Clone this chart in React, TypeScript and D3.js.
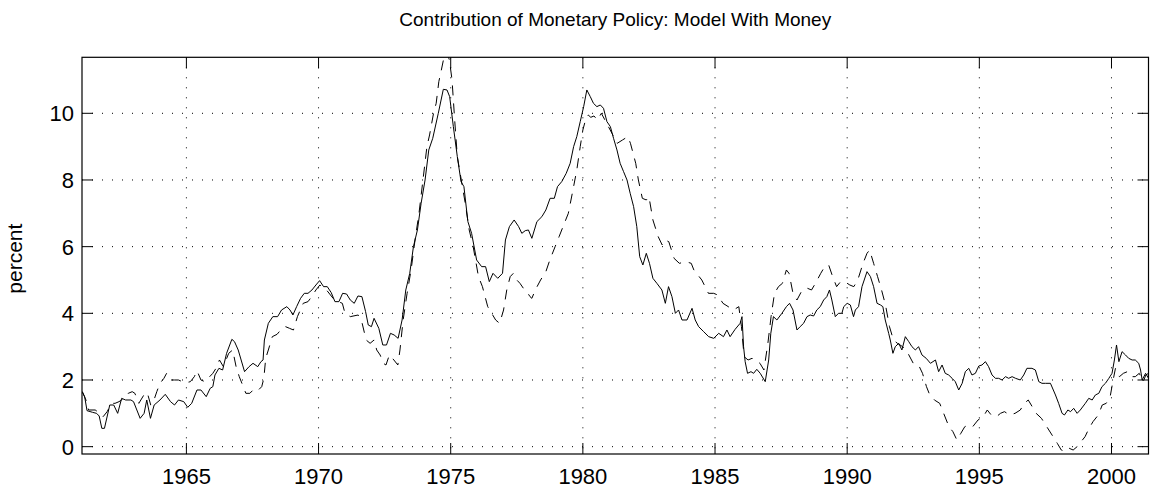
import * as d3 from "d3";

// 実線: 実際の系列
const solidSeries: [number, number][] = [
  [1961.06, 1.65], [1961.15, 1.5], [1961.24, 1.08], [1961.45, 1.03], [1961.6, 1.0], [1961.7, 0.92], [1961.8, 0.55], [1961.9, 0.55],
  [1962.1, 1.25], [1962.25, 1.25], [1962.4, 1.0], [1962.55, 1.45], [1962.7, 1.4], [1962.9, 1.4], [1963.0, 1.35], [1963.25, 0.85],
  [1963.4, 1.0], [1963.5, 1.4], [1963.64, 0.85], [1963.78, 1.25], [1964.0, 1.4], [1964.2, 1.57], [1964.4, 1.35], [1964.55, 1.25],
  [1964.7, 1.4], [1964.9, 1.35], [1965.05, 1.18], [1965.2, 1.3], [1965.4, 1.7], [1965.55, 1.7], [1965.75, 1.5], [1965.9, 1.75],
  [1966.0, 1.8], [1966.08, 2.15], [1966.23, 2.35], [1966.37, 2.3], [1966.52, 2.8], [1966.72, 3.22], [1966.82, 3.15], [1966.96, 2.9],
  [1967.2, 2.25], [1967.37, 2.4], [1967.52, 2.5], [1967.7, 2.4], [1967.82, 2.55], [1967.9, 2.6], [1967.95, 3.2], [1968.1, 3.7],
  [1968.27, 3.9], [1968.45, 3.9], [1968.6, 4.1], [1968.8, 4.2], [1968.92, 4.1], [1969.03, 3.95], [1969.17, 4.2], [1969.32, 4.45],
  [1969.46, 4.6], [1969.6, 4.6], [1969.75, 4.7], [1969.9, 4.85], [1970.04, 4.98], [1970.19, 4.8], [1970.33, 4.8], [1970.48, 4.62],
  [1970.62, 4.35], [1970.77, 4.35], [1970.91, 4.6], [1971.06, 4.58], [1971.2, 4.4], [1971.35, 4.3], [1971.49, 4.52], [1971.64, 4.5],
  [1971.78, 4.05], [1971.88, 3.65], [1972.0, 3.6], [1972.1, 3.85], [1972.28, 3.55], [1972.43, 3.05], [1972.57, 3.05], [1972.72, 3.4],
  [1972.86, 3.35], [1973.01, 3.25], [1973.16, 3.8], [1973.3, 4.7], [1973.45, 5.2], [1973.59, 6.0], [1973.74, 6.5], [1973.88, 7.3],
  [1974.03, 8.0], [1974.17, 8.9], [1974.32, 9.25], [1974.53, 10.0], [1974.72, 10.72], [1974.86, 10.7], [1974.96, 10.5], [1975.1, 9.6],
  [1975.25, 8.7], [1975.39, 7.95], [1975.5, 7.8], [1975.65, 6.75], [1975.79, 6.4], [1975.98, 5.6], [1976.17, 5.4], [1976.32, 5.4],
  [1976.46, 4.95], [1976.6, 5.2], [1976.78, 5.05], [1976.96, 5.2], [1977.07, 6.2], [1977.22, 6.6], [1977.4, 6.8], [1977.57, 6.6],
  [1977.69, 6.4], [1977.82, 6.48], [1977.94, 6.5], [1978.07, 6.25], [1978.26, 6.75], [1978.45, 6.9], [1978.6, 7.1], [1978.76, 7.45],
  [1978.92, 7.45], [1979.04, 7.8], [1979.2, 7.95], [1979.37, 8.2], [1979.52, 8.5], [1979.65, 9.0], [1979.77, 9.3], [1979.9, 9.75],
  [1980.03, 10.2], [1980.15, 10.7], [1980.28, 10.5], [1980.4, 10.3], [1980.53, 10.2], [1980.66, 10.25], [1980.78, 10.15], [1980.91, 9.75],
  [1981.04, 9.6], [1981.16, 9.25], [1981.29, 8.9], [1981.41, 8.5], [1981.54, 8.25], [1981.67, 8.0], [1981.79, 7.6], [1981.92, 7.2],
  [1982.04, 6.6], [1982.15, 5.7], [1982.27, 5.45], [1982.4, 5.8], [1982.52, 5.5], [1982.65, 5.05], [1982.8, 4.9], [1982.99, 4.7],
  [1983.12, 4.3], [1983.24, 4.8], [1983.37, 4.5], [1983.5, 4.0], [1983.62, 4.1], [1983.75, 3.8], [1983.94, 3.8], [1984.13, 4.15],
  [1984.25, 3.8], [1984.38, 3.6], [1984.57, 3.45], [1984.76, 3.3], [1984.95, 3.25], [1985.14, 3.4], [1985.32, 3.3], [1985.45, 3.5],
  [1985.57, 3.3], [1985.76, 3.52], [1985.95, 3.7], [1986.02, 3.9], [1986.08, 3.0], [1986.14, 2.55], [1986.23, 2.2], [1986.36, 2.25],
  [1986.46, 2.2], [1986.58, 2.32], [1986.71, 2.2], [1986.9, 1.95], [1987.03, 2.6], [1987.11, 3.4], [1987.21, 3.9], [1987.34, 3.8],
  [1987.53, 4.0], [1987.7, 4.2], [1987.82, 4.3], [1987.95, 4.1], [1988.1, 3.5], [1988.22, 3.6], [1988.35, 3.7], [1988.48, 3.9],
  [1988.6, 3.95], [1988.73, 3.92], [1988.85, 4.1], [1988.98, 4.2], [1989.11, 4.4], [1989.23, 4.5], [1989.33, 4.7], [1989.42, 4.4],
  [1989.55, 3.9], [1989.67, 4.0], [1989.8, 4.0], [1989.87, 4.2], [1990.0, 4.3], [1990.12, 4.25], [1990.24, 3.9], [1990.31, 4.1],
  [1990.43, 4.2], [1990.56, 4.8], [1990.75, 5.25], [1990.88, 5.1], [1991.0, 4.8], [1991.13, 4.3], [1991.26, 4.25], [1991.35, 4.2],
  [1991.44, 3.8], [1991.57, 3.4], [1991.63, 3.2], [1991.73, 2.8], [1991.82, 3.0], [1991.95, 3.1], [1992.07, 2.9], [1992.2, 3.3],
  [1992.33, 3.15], [1992.45, 3.0], [1992.58, 2.9], [1992.7, 3.0], [1992.83, 2.75], [1992.99, 2.65], [1993.15, 2.5], [1993.34, 2.6],
  [1993.46, 2.25], [1993.59, 2.45], [1993.71, 2.2], [1993.84, 2.15], [1993.97, 2.05], [1994.09, 1.95], [1994.22, 1.7], [1994.35, 1.9],
  [1994.47, 2.25], [1994.6, 2.35], [1994.72, 2.15], [1994.85, 2.2], [1994.98, 2.42], [1995.1, 2.45], [1995.23, 2.55], [1995.35, 2.4],
  [1995.48, 2.15], [1995.61, 2.05], [1995.73, 2.05], [1995.86, 2.0], [1995.99, 2.1], [1996.11, 2.05], [1996.24, 2.1], [1996.37, 2.05],
  [1996.55, 2.0], [1996.68, 2.15], [1996.8, 2.35], [1996.99, 2.35], [1997.12, 2.3], [1997.25, 1.95], [1997.37, 1.9], [1997.5, 1.9],
  [1997.69, 1.9], [1997.88, 1.55], [1998.0, 1.3], [1998.13, 1.0], [1998.22, 0.95], [1998.35, 1.1], [1998.45, 1.05], [1998.57, 1.15],
  [1998.7, 1.0], [1998.82, 1.1], [1999.01, 1.3], [1999.14, 1.45], [1999.27, 1.4], [1999.39, 1.55], [1999.52, 1.6], [1999.64, 1.8],
  [1999.77, 1.9], [1999.9, 2.05], [2000.02, 2.2], [2000.11, 2.6], [2000.19, 3.05], [2000.28, 2.55], [2000.4, 2.85], [2000.53, 2.75],
  [2000.65, 2.65], [2000.78, 2.6], [2000.9, 2.6], [2001.03, 2.5], [2001.1, 2.3], [2001.16, 2.0], [2001.29, 2.2], [2001.4, 2.05],
];

// 破線: 比較系列
const dashedSeries: [number, number][] = [
  [1961.06, 1.65], [1961.2, 1.4], [1961.3, 1.1], [1961.55, 1.1], [1961.73, 1.0], [1961.85, 0.9], [1962.0, 1.05], [1962.17, 1.3],
  [1962.3, 1.3], [1962.45, 1.35], [1962.55, 1.4], [1962.8, 1.6], [1962.95, 1.65], [1963.05, 1.6], [1963.2, 1.3], [1963.43, 1.6],
  [1963.52, 1.62], [1963.65, 1.25], [1963.73, 1.3], [1963.88, 1.65], [1964.0, 1.9], [1964.15, 2.05], [1964.25, 2.2], [1964.4, 2.0],
  [1964.55, 2.0], [1964.7, 2.0], [1964.85, 1.95], [1965.0, 1.92], [1965.15, 1.95], [1965.3, 2.1], [1965.4, 2.28], [1965.55, 2.0],
  [1965.7, 1.95], [1965.82, 2.05], [1966.0, 2.2], [1966.12, 2.35], [1966.25, 2.6], [1966.4, 2.4], [1966.6, 2.8], [1966.75, 2.9],
  [1966.88, 2.4], [1967.0, 2.1], [1967.1, 1.9], [1967.25, 1.6], [1967.4, 1.6], [1967.55, 1.72], [1967.7, 1.68], [1967.85, 1.8],
  [1967.93, 2.05], [1968.0, 2.65], [1968.1, 2.9], [1968.25, 3.3], [1968.43, 3.37], [1968.62, 3.55], [1968.75, 3.6], [1968.9, 3.55],
  [1969.05, 3.5], [1969.2, 3.9], [1969.42, 4.3], [1969.6, 4.35], [1969.74, 4.5], [1969.9, 4.7], [1970.05, 4.85], [1970.3, 4.7],
  [1970.6, 4.4], [1970.9, 4.3], [1971.0, 4.0], [1971.2, 3.9], [1971.5, 3.95], [1971.65, 3.7], [1971.8, 3.2], [1971.95, 3.1],
  [1972.1, 3.2], [1972.2, 2.9], [1972.33, 2.75], [1972.45, 2.5], [1972.55, 2.45], [1972.68, 2.75], [1972.85, 2.6], [1973.0, 2.45],
  [1973.08, 2.9], [1973.2, 3.8], [1973.35, 4.6], [1973.5, 5.3], [1973.65, 6.2], [1973.8, 7.0], [1973.95, 8.0], [1974.1, 9.0],
  [1974.2, 9.35], [1974.35, 10.0], [1974.45, 10.3], [1974.55, 10.95], [1974.62, 11.2], [1974.75, 11.7], [1974.85, 11.85], [1974.95, 11.6],
  [1975.05, 11.0], [1975.15, 9.8], [1975.25, 8.7], [1975.4, 8.0], [1975.55, 7.3], [1975.7, 6.5], [1975.85, 6.0], [1976.05, 5.1],
  [1976.2, 4.8], [1976.4, 4.2], [1976.55, 4.0], [1976.7, 3.8], [1976.85, 3.7], [1977.0, 4.1], [1977.12, 4.7], [1977.25, 5.1],
  [1977.37, 5.2], [1977.5, 5.0], [1977.62, 4.9], [1977.75, 4.75], [1977.88, 4.65], [1978.0, 4.5], [1978.07, 4.45], [1978.2, 4.7],
  [1978.4, 5.0], [1978.6, 5.25], [1978.75, 5.6], [1978.95, 6.0], [1979.1, 6.3], [1979.3, 6.7], [1979.45, 7.0], [1979.6, 7.6],
  [1979.77, 8.3], [1979.9, 9.0], [1980.0, 9.5], [1980.1, 9.8], [1980.2, 9.95], [1980.3, 9.88], [1980.42, 9.92], [1980.55, 9.8],
  [1980.7, 10.0], [1980.9, 9.7], [1981.1, 9.4], [1981.3, 9.1], [1981.5, 9.2], [1981.7, 9.3], [1981.8, 9.1], [1982.0, 8.5],
  [1982.1, 8.0], [1982.25, 7.45], [1982.4, 7.4], [1982.5, 7.5], [1982.65, 6.8], [1982.85, 6.3], [1983.0, 6.05], [1983.1, 6.2],
  [1983.25, 6.15], [1983.45, 5.65], [1983.65, 5.5], [1983.9, 5.55], [1984.1, 5.5], [1984.2, 5.3], [1984.5, 5.0], [1984.75, 4.6],
  [1984.95, 4.6], [1985.1, 4.55], [1985.3, 4.3], [1985.5, 4.2], [1985.7, 4.1], [1985.9, 4.2], [1986.0, 3.6], [1986.1, 2.7],
  [1986.25, 2.6], [1986.4, 2.65], [1986.55, 2.6], [1986.7, 2.5], [1986.85, 2.3], [1987.0, 3.1], [1987.12, 3.9], [1987.25, 4.6],
  [1987.4, 4.8], [1987.55, 4.9], [1987.7, 5.3], [1987.8, 5.2], [1987.95, 4.6], [1988.1, 4.4], [1988.3, 4.7], [1988.5, 4.75],
  [1988.65, 4.7], [1988.8, 4.9], [1989.0, 5.2], [1989.15, 5.4], [1989.3, 5.45], [1989.45, 5.1], [1989.6, 4.8], [1989.75, 4.95],
  [1989.9, 4.95], [1990.1, 4.85], [1990.25, 4.8], [1990.4, 5.0], [1990.6, 5.5], [1990.75, 5.8], [1990.85, 5.9], [1991.0, 5.5],
  [1991.15, 5.1], [1991.3, 4.7], [1991.45, 4.25], [1991.6, 3.6], [1991.75, 3.2], [1991.9, 3.1], [1992.1, 3.0], [1992.3, 2.8],
  [1992.5, 2.5], [1992.7, 2.45], [1992.85, 2.2], [1993.0, 1.8], [1993.1, 1.6], [1993.3, 1.4], [1993.5, 1.3], [1993.65, 1.0],
  [1993.85, 0.6], [1994.0, 0.45], [1994.15, 0.2], [1994.3, 0.4], [1994.45, 0.6], [1994.6, 0.65], [1994.75, 0.6], [1994.95, 0.8],
  [1995.15, 0.9], [1995.3, 1.1], [1995.45, 0.95], [1995.65, 0.9], [1995.8, 1.0], [1995.95, 1.05], [1996.15, 0.95], [1996.35, 1.0],
  [1996.55, 1.1], [1996.7, 1.3], [1996.85, 1.4], [1997.0, 1.2], [1997.15, 1.0], [1997.35, 0.85], [1997.55, 0.6], [1997.75, 0.35],
  [1997.95, 0.1], [1998.1, -0.1], [1998.25, -0.15], [1998.4, -0.05], [1998.55, -0.1], [1998.7, 0.0], [1998.85, 0.15], [1999.0, 0.3],
  [1999.15, 0.55], [1999.3, 0.75], [1999.5, 0.95], [1999.65, 1.25], [1999.8, 1.3], [1999.95, 1.5], [2000.05, 1.95], [2000.15, 2.35],
  [2000.3, 2.1], [2000.45, 2.2], [2000.6, 2.25], [2000.75, 2.1], [2000.9, 2.1], [2001.05, 2.2], [2001.2, 1.95], [2001.3, 2.15],
  [2001.4, 2.2],
];

const xTicks = [1965, 1970, 1975, 1980, 1985, 1990, 1995, 2000];
const yTicks = [0, 2, 4, 6, 8, 10];

const title = "Contribution of Monetary Policy: Model With Money";
const yLabel = "percent";

const width = 1151;
const height = 492;
const box = {left: 82, right: 1148.5, top: 57.3, bottom: 454};
const tickLen = 11;
const font = "'Liberation Sans', Arial, Helvetica, sans-serif";

const App = () => {
  const x = d3.scaleLinear().domain([1961.05, 2001.4]).range([box.left, box.right]);
  const y = d3.scaleLinear().domain([-0.22, 11.68]).range([box.bottom, box.top]);

  const line = d3.line<[number, number]>()
    .x(d => x(d[0]))
    .y(d => y(d[1]));

  return (
    <svg width={width} height={height} style={{position: "absolute", left: 0, top: 0, background: "#fff"}}>
      <defs>
        <clipPath id="plotArea">
          <rect x={box.left} y={box.top} width={box.right - box.left} height={box.bottom - box.top}/>
        </clipPath>
      </defs>
      <rect width={width} height={height} fill="#fff"/>

      {/* グリッド */}
      <g stroke="#000" strokeWidth={1} strokeDasharray="1,9">
        {xTicks.map(t => (
          <line key={`gx${t}`} x1={x(t)} x2={x(t)} y1={box.top} y2={box.bottom}/>
        ))}
        {yTicks.map(t => (
          <line key={`gy${t}`} x1={box.left} x2={box.right} y1={y(t)} y2={y(t)}/>
        ))}
      </g>

      {/* データ */}
      <g clipPath="url(#plotArea)" fill="none" stroke="#000" strokeWidth={1}>
        <path d={line(dashedSeries) ?? ""} strokeDasharray="10,8"/>
        <path d={line(solidSeries) ?? ""}/>
      </g>

      {/* 目盛り（内向き） */}
      <g stroke="#000" strokeWidth={1}>
        {xTicks.map(t => (
          <g key={`tx${t}`}>
            <line x1={x(t)} x2={x(t)} y1={box.bottom} y2={box.bottom - tickLen}/>
            <line x1={x(t)} x2={x(t)} y1={box.top} y2={box.top + tickLen}/>
          </g>
        ))}
        {yTicks.map(t => (
          <g key={`ty${t}`}>
            <line x1={box.left} x2={box.left + tickLen} y1={y(t)} y2={y(t)}/>
            <line x1={box.right} x2={box.right - tickLen} y1={y(t)} y2={y(t)}/>
          </g>
        ))}
      </g>

      <rect x={box.left} y={box.top} width={box.right - box.left} height={box.bottom - box.top}
            fill="none" stroke="#000" strokeWidth={1.2}/>

      {/* ラベル */}
      <g fontFamily={font} fill="#000">
        {xTicks.map(t => (
          <text key={`lx${t}`} x={x(t)} y={484} textAnchor="middle" fontSize={22}>{t}</text>
        ))}
        {yTicks.map(t => (
          <text key={`ly${t}`} x={74} y={y(t) + 7.9} textAnchor="end" fontSize={22}>{t}</text>
        ))}
        <text x={(box.left + box.right) / 2} y={26} textAnchor="middle" fontSize={19}>{title}</text>
        <text transform={`translate(22,${(box.top + box.bottom) / 2 + 3}) rotate(-90)`} textAnchor="middle" fontSize={21}>
          {yLabel}
        </text>
      </g>
    </svg>
  );
};

export default App;
